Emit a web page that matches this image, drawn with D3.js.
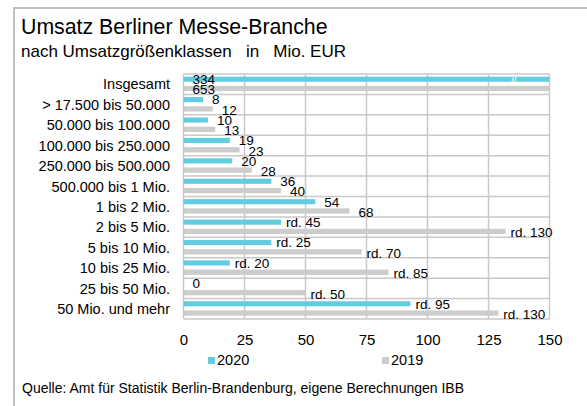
<!DOCTYPE html>
<html lang="de">
<head>
<meta charset="UTF-8">
<title>Umsatz Berliner Messe-Branche</title>
<style>
  body { margin: 0; background: #fff; }
  svg { display: block; font-family: "Liberation Sans", Arial, sans-serif; }
  text { white-space: pre; }
</style>
</head>
<body>
<div class="chart"></div>
<script src="https://d3js.org/d3.v7.min.js"></script>
<script>
const categories = ["Insgesamt", "> 17.500 bis 50.000", "50.000 bis 100.000", "100.000 bis 250.000",
  "250.000 bis 500.000", "500.000 bis 1 Mio.", "1 bis 2 Mio.", "2 bis 5 Mio.", "5 bis 10 Mio.",
  "10 bis 25 Mio.", "25 bis 50 Mio.", "50 Mio. und mehr"];
// bar lengths as drawn in the picture
const values2020 = [334, 8, 10, 19, 20, 36, 54, 40, 36, 19, 0, 93];
const values2019 = [653, 12, 13, 23, 28, 40, 68, 132, 73, 84, 50, 129];
// printed data labels
const labels2020 = ["334", "8", "10", "19", "20", "36", "54", "rd. 45", "rd. 25", "rd. 20", "0", "rd. 95"];
const labels2019 = ["653", "12", "13", "23", "28", "40", "68", "rd. 130", "rd. 70", "rd. 85", "rd. 50", "rd. 130"];
const xTicks = [0, 25, 50, 75, 100, 125, 150];
const seriesNames = ["2020", "2019"];

const width = 587, height = 406;
const cyan = "#62cde1", grey = "#cdcdcd", gridColor = "#c9c9c9";

const svg = d3.select(".chart").append("svg")
  .attr("width", width).attr("height", height);

// outer frame (only top and left edge visible)
svg.append("path")
  .attr("d", `M14,${height + 2} V8 H${width + 2}`)
  .attr("fill", "none").attr("stroke", "#bfbfbf").attr("stroke-width", 2);

svg.append("text").attr("x", 21).attr("y", 34)
  .attr("font-size", 21.3).attr("fill", "#000")
  .text("Umsatz Berliner Messe-Branche");
svg.append("text").attr("x", 21).attr("y", 57)
  .attr("font-size", 17).attr("fill", "#000")
  .text("nach Umsatzgrößenklassen   in   Mio. EUR");

const x = d3.scaleLinear().domain([0, 150]).range([183.5, 549.5]);
const y = d3.scaleBand().domain(categories).range([74, 319]).padding(0);
const bw = y.bandwidth();

// grid
const grid = svg.append("g").attr("stroke", gridColor).attr("stroke-width", 1.5);
grid.selectAll(".v").data(xTicks).join("line")
  .attr("x1", d => x(d)).attr("x2", d => x(d))
  .attr("y1", y.range()[0]).attr("y2", y.range()[1]);
grid.selectAll(".h").data(categories.concat(["_end"])).join("line")
  .attr("x1", x(0)).attr("x2", x(150))
  .attr("y1", (d, i) => y.range()[0] + i * bw)
  .attr("y2", (d, i) => y.range()[0] + i * bw);

const clip = v => Math.min(v, 150);
const rows = categories.map((c, i) => ({
  c, v20: values2020[i], v19: values2019[i], l20: labels2020[i], l19: labels2019[i]
}));

const off20 = [0.13, 0.25], off19 = [0.58, 0.26];

svg.append("g").selectAll("rect").data(rows).join("rect")
  .attr("x", x(0)).attr("y", d => y(d.c) + bw * off20[0])
  .attr("width", d => x(clip(d.v20)) - x(0)).attr("height", bw * off20[1])
  .attr("fill", cyan);
svg.append("g").selectAll("rect").data(rows).join("rect")
  .attr("x", x(0)).attr("y", d => y(d.c) + bw * off19[0])
  .attr("width", d => x(clip(d.v19)) - x(0)).attr("height", bw * off19[1])
  .attr("fill", grey);

// axis break mark on the clipped bar
const brk = svg.append("g").attr("stroke", "#fff").attr("stroke-width", 1);
rows.filter(d => d.v20 > 150).forEach(d => {
  const top = y(d.c) + bw * off20[0], bot = top + bw * off20[1];
  [0, 2.5].forEach(dx => {
    brk.append("line")
      .attr("x1", x(135) + dx - 1).attr("y1", bot)
      .attr("x2", x(135) + dx + 1).attr("y2", top);
  });
});

// data labels
const labelX = (v, l) => v > 150 ? x(0) + 9 : x(v) + (l.startsWith("rd.") ? 5 : 9);
const lab = svg.append("g").attr("font-size", 13.5).attr("fill", "#000");
lab.selectAll(".l20").data(rows).join("text")
  .attr("x", d => labelX(d.v20, d.l20))
  .attr("y", d => y(d.c) + bw * (off20[0] + off20[1] / 2))
  .attr("dy", "0.36em").text(d => d.l20);
lab.selectAll(".l19").data(rows).join("text")
  .attr("x", d => labelX(d.v19, d.l19))
  .attr("y", d => y(d.c) + bw * (off19[0] + off19[1] / 2) + 1)
  .attr("dy", "0.36em").text(d => d.l19);

// category axis
svg.append("g").attr("font-size", 14.5).attr("text-anchor", "end")
  .selectAll("text").data(categories).join("text")
  .attr("x", 170).attr("y", d => y(d) + bw / 2)
  .attr("dy", "0.36em").text(d => d);

// value axis
const xAxis = d3.axisBottom(x).tickValues(xTicks).tickSize(0).tickPadding(0);
svg.append("g").attr("transform", "translate(0,334)").call(xAxis)
  .call(g => g.select(".domain").remove())
  .selectAll("text").attr("font-size", 15).attr("fill", "#000")
  .attr("font-family", "Liberation Sans, Arial, sans-serif");

// legend
const legX = [208, 382];
const leg = svg.append("g").selectAll("g").data(seriesNames).join("g")
  .attr("transform", (d, i) => `translate(${legX[i]},357)`);
leg.append("rect").attr("width", 7).attr("height", 7)
  .attr("fill", (d, i) => i === 0 ? cyan : grey);
leg.append("text").attr("x", 9).attr("y", 8).attr("font-size", 14.5).text(d => d);

svg.append("text").attr("x", 22).attr("y", 393)
  .attr("font-size", 14).attr("fill", "#000")
  .text("Quelle: Amt für Statistik Berlin-Brandenburg, eigene Berechnungen IBB");
</script>
</body>
</html>
